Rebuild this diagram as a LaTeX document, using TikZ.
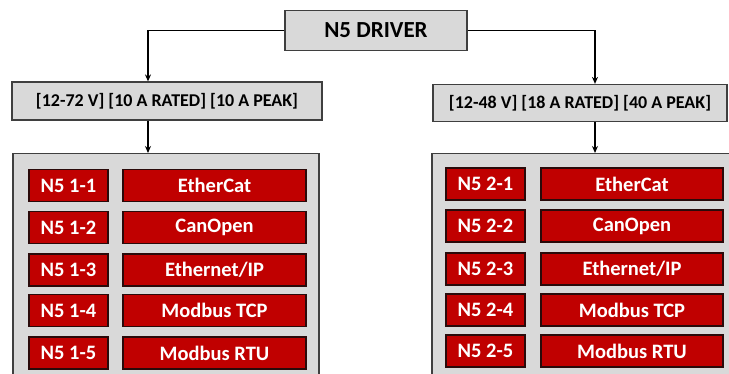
\documentclass[tikz,border=0pt]{standalone}
\usepackage{fontspec}
\setmainfont{Carlito}
\usetikzlibrary{arrows.meta}
\definecolor{boxgray}{HTML}{D9D9D9}
\definecolor{edgegray}{HTML}{3F3F3F}
\definecolor{redfill}{HTML}{C00000}
\definecolor{rededge}{HTML}{2A0A0A}
\begin{document}
\begin{tikzpicture}[x=1pt,y=-1pt,
  graybox/.style={draw=edgegray,fill=boxgray,line width=1.2pt,inner sep=0pt},
  redbox/.style={draw=rededge,fill=redfill,line width=1.8pt,inner sep=0pt,
     minimum height=32pt,text=white,font=\bfseries\fontsize{20.5}{24}\selectfont},
  conn/.style={draw=black,line width=1.3pt,-{Stealth[length=7pt,width=6pt]}}]
\useasboundingbox (0,0) rectangle (729,374);
\clip (0,0) rectangle (729,374);
% top
\node[graybox,minimum width=182pt,minimum height=40pt,font=\bfseries\fontsize{23}{26}\selectfont] (drv) at (376,30.5) {N5 DRIVER};
\node[graybox,minimum width=310pt,minimum height=38pt,font=\bfseries\fontsize{18}{21}\selectfont] (lspec) at (167,101) {[12-72 V] [10 A RATED] [10 A PEAK]};
\node[graybox,minimum width=294pt,minimum height=37pt,font=\bfseries\fontsize{18}{21}\selectfont] (rspec) at (580,103) {[12-48 V] [18 A RATED] [40 A PEAK]};
\node[graybox,minimum width=306pt,minimum height=240pt,anchor=north] (lbig) at (166,153) {};
\node[graybox,minimum width=306pt,minimum height=240pt,anchor=north] (rbig) at (585,153) {};
% connectors
\coordinate (la) at (148,0);
\coordinate (ra) at (595,0);
\draw[conn] (drv.west) -| (la |- lspec.north);
\draw[conn] (drv.east) -| (ra |- rspec.north);
\draw[conn] (lspec.south -| la) -- (lbig.north -| la);
\draw[conn] (rspec.south -| ra) -- (rbig.north -| ra);
% left rows
\node[redbox,minimum width=79pt] (l1a) at (68.5,185.5) {N5 1-1};
\node[redbox,minimum width=183pt] (l1b) at (214.5,185.5) {EtherCat};
\node[redbox,minimum width=79pt] (l2a) at (68.5,227.5) {N5 1-2};
\node[redbox,minimum width=183pt] (l2b) at (214.5,227.5) {CanOpen};
\node[redbox,minimum width=79pt] (l3a) at (68.5,270) {N5 1-3};
\node[redbox,minimum width=183pt] (l3b) at (214.5,270) {Ethernet/IP};
\node[redbox,minimum width=79pt] (l4a) at (68.5,310.5) {N5 1-4};
\node[redbox,minimum width=183pt] (l4b) at (214.5,310.5) {Modbus TCP};
\node[redbox,minimum width=79pt] (l5a) at (68.5,353) {N5 1-5};
\node[redbox,minimum width=183pt] (l5b) at (214.5,353) {Modbus RTU};
% right rows
\node[redbox,minimum width=79pt] (r1a) at (485.5,184) {N5 2-1};
\node[redbox,minimum width=182pt] (r1b) at (632,184) {EtherCat};
\node[redbox,minimum width=79pt] (r2a) at (485.5,226) {N5 2-2};
\node[redbox,minimum width=182pt] (r2b) at (632,226) {CanOpen};
\node[redbox,minimum width=79pt] (r3a) at (485.5,269) {N5 2-3};
\node[redbox,minimum width=182pt] (r3b) at (632,269) {Ethernet/IP};
\node[redbox,minimum width=79pt] (r4a) at (485.5,310) {N5 2-4};
\node[redbox,minimum width=182pt] (r4b) at (632,310) {Modbus TCP};
\node[redbox,minimum width=79pt] (r5a) at (485.5,351) {N5 2-5};
\node[redbox,minimum width=182pt] (r5b) at (632,351) {Modbus RTU};
\end{tikzpicture}
\end{document}
